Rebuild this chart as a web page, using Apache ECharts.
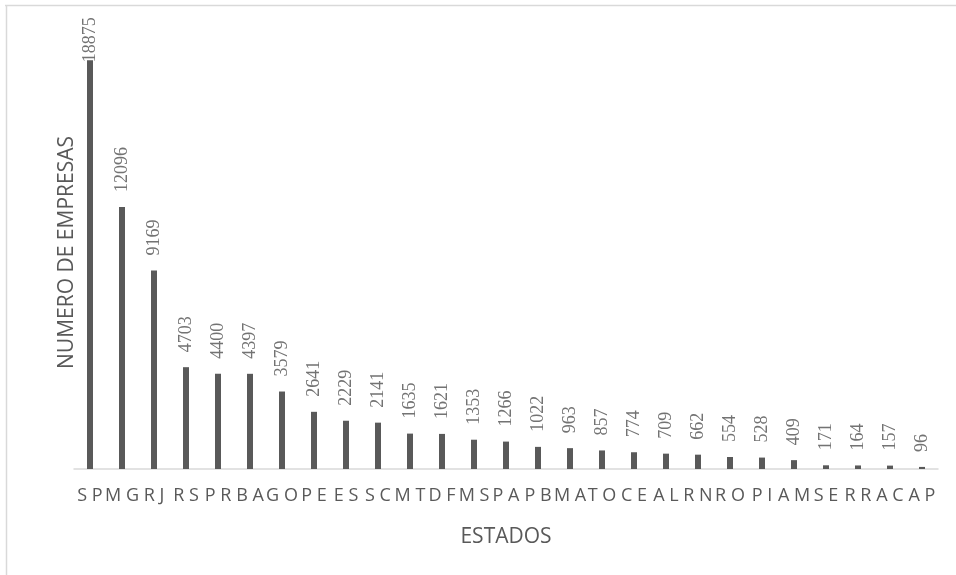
<!DOCTYPE html>
<html>
<head>
<meta charset="utf-8">
<script src="https://cdn.jsdelivr.net/npm/echarts@6/dist/echarts.min.js"></script>
<style>
  html, body { margin: 0; padding: 0; background: #fff; }
  #chart { width: 956px; height: 575px; }
</style>
</head>
<body>
<div id="chart"></div>
<script>
var estados = ['SP', 'MG', 'RJ', 'RS', 'PR', 'BA', 'GO', 'PE', 'ES', 'SC', 'MT', 'DF', 'MS', 'PA', 'PB',
  'MA', 'TO', 'CE', 'AL', 'RN', 'RO', 'PI', 'AM', 'SE', 'RR', 'AC', 'AP'];
var empresas = [18875, 12096, 9169, 4703, 4400, 4397, 3579, 2641, 2229, 2141, 1635, 1621, 1353, 1266, 1022,
  963, 857, 774, 709, 662, 554, 528, 409, 171, 164, 157, 96];

var chartDom = document.getElementById('chart');
var myChart = echarts.init(chartDom);

// the tallest label has no room above the plot, so it sits right on its bar
var barData = empresas.map(function (v, i) {
  return i === 0 ? { value: v, label: { distance: -2 } } : v;
});

var option = {
  animation: false,
  grid: { left: 74, right: 18, top: 36, bottom: 106 },
  xAxis: {
    type: 'category',
    data: estados,
    name: 'ESTADOS',
    nameLocation: 'middle',
    nameGap: 58,
    nameTextStyle: { fontFamily: 'Open Sans', fontSize: 21, color: '#595959' },
    axisLine: { lineStyle: { color: '#d9d9d9', width: 1.5 } },
    axisTick: { show: false },
    axisLabel: {
      interval: 0,
      margin: 18,
      fontFamily: 'Open Sans',
      fontSize: 18,
      color: '#595959',
      formatter: function (v) { return v.split('').join(' '); }
    }
  },
  yAxis: {
    type: 'value',
    min: 0,
    max: 20000,
    name: 'NUMERO DE EMPRESAS',
    nameLocation: 'middle',
    nameGap: -4,
    nameRotate: 90,
    nameTextStyle: { fontFamily: 'Open Sans', fontSize: 21, color: '#595959' },
    axisLine: { show: false },
    axisTick: { show: false },
    axisLabel: { show: false },
    splitLine: { show: false }
  },
  series: [
    {
      type: 'bar',
      data: barData,
      barWidth: 6,
      itemStyle: { color: '#595959' },
      label: {
        show: true,
        position: 'top',
        rotate: 90,
        align: 'left',
        verticalAlign: 'middle',
        distance: 15,
        fontFamily: 'Liberation Serif',
        fontSize: 18,
        color: '#737373'
      }
    }
  ],
  graphic: [
    { type: 'line', shape: { x1: 5, y1: 5.5, x2: 956, y2: 5.5 }, style: { stroke: '#d9d9d9', lineWidth: 1.5 } },
    { type: 'line', shape: { x1: 6.5, y1: 5, x2: 6.5, y2: 575 }, style: { stroke: '#d9d9d9', lineWidth: 1.5 } }
  ]
};

myChart.setOption(option);
</script>
</body>
</html>
